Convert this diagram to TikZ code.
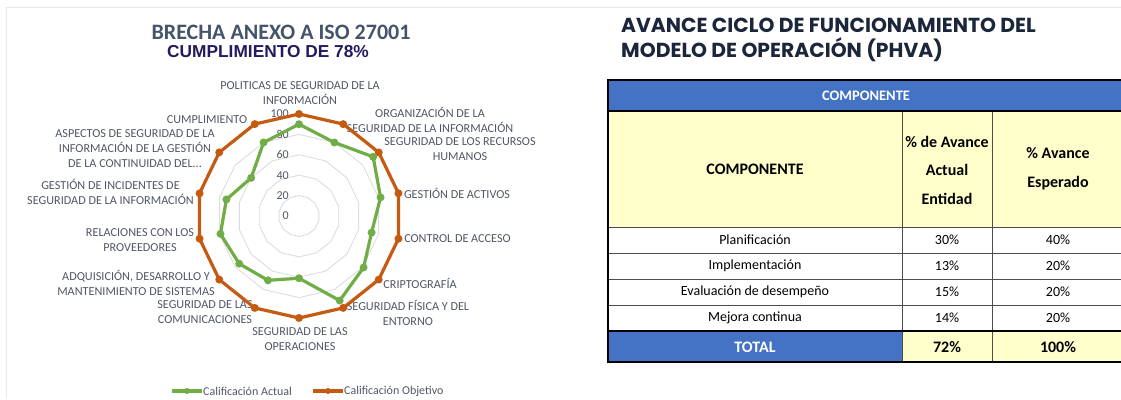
\documentclass[tikz,border=0pt]{standalone}
\usepackage{fontspec}
\setmainfont{Carlito}
\newfontfamily\arialfont{Liberation Sans}
\newfontfamily\titlefont{Poppins}
\usepackage{tikz}
\usetikzlibrary{positioning}
\definecolor{chgreen}{RGB}{112,173,71}
\definecolor{chorange}{RGB}{197,90,17}
\definecolor{chgrid}{RGB}{220,220,224}
\definecolor{chtext}{RGB}{80,86,100}
\definecolor{chtitle}{RGB}{68,84,106}
\definecolor{chnavy}{RGB}{32,28,94}
\definecolor{chframe}{RGB}{232,232,232}
\definecolor{tblue}{RGB}{68,114,196}
\definecolor{tyellow}{RGB}{255,255,204}
\definecolor{ttitle}{RGB}{27,38,59}
\tikzstyle{axislabel} = [font=\fontsize{12.2}{15}\selectfont, text=chtext, align=center, inner sep=0pt]
\tikzstyle{ticklabel} = [font=\fontsize{12}{14}\selectfont, text=chtext, anchor=east, inner sep=0pt]
\tikzstyle{gridline} = [draw=chgrid, line width=0.9pt]
\tikzstyle{actualline} = [draw=chgreen, line width=3.2pt, line join=round]
\tikzstyle{targetline} = [draw=chorange, line width=3.2pt, line join=round]
\tikzstyle{datacell} = [font=\fontsize{14}{16}\selectfont, inner sep=0pt]
\tikzstyle{headcell} = [font=\fontsize{16}{28.5}\selectfont\bfseries, align=center, inner sep=0pt]
\tikzstyle{rule} = [draw=black!70, line width=0.9pt]
\tikzstyle{thickrule} = [draw=black, line width=1.3pt]

\begin{document}
\begin{tikzpicture}[x=1pt, y=-1pt]
\useasboundingbox (0,0) rectangle (1121,399);
\draw[chframe, line width=1pt] (6,399) -- (6,7) -- (1121,7);

% Chart titles
\node[font=\fontsize{22}{24}\selectfont\bfseries, text=chtitle, inner sep=0pt] (chtitle1) at (281,32) {BRECHA ANEXO A ISO 27001};
\node[font=\arialfont\fontsize{17.3}{19}\selectfont\bfseries, text=chnavy, inner sep=0pt] (chtitle2) at (268,52) {CUMPLIMIENTO DE 78\%};

% Axis labels
\node[axislabel] (ax1) at (300,93.5) {POLITICAS DE SEGURIDAD DE LA\\INFORMACIÓN};
\node[axislabel] (ax2) at (430,119.5) {ORGANIZACIÓN DE LA\\SEGURIDAD DE LA INFORMACIÓN};
\node[axislabel] (ax3) at (460,149.5) {SEGURIDAD DE LOS RECURSOS\\HUMANOS};
\node[axislabel] (ax4) at (457,193) {GESTIÓN DE ACTIVOS};
\node[axislabel] (ax5) at (457.5,239) {CONTROL DE ACCESO};
\node[axislabel] (ax6) at (420,283) {CRIPTOGRAFÍA};
\node[axislabel] (ax7) at (408,312.5) {SEGURIDAD FÍSICA Y DEL\\ENTORNO};
\node[axislabel] (ax8) at (300,339.5) {SEGURIDAD DE LAS\\OPERACIONES};
\node[axislabel] (ax9) at (205,312.5) {SEGURIDAD DE LAS\\COMUNICACIONES};
\node[axislabel] (ax10) at (136,283) {ADQUISICIÓN, DESARROLLO Y\\MANTENIMIENTO DE SISTEMAS};
\node[axislabel] (ax11) at (140,240) {RELACIONES CON LOS\\PROVEEDORES};
\node[axislabel] (ax12) at (110.5,192) {GESTIÓN DE INCIDENTES DE\\SEGURIDAD DE LA INFORMACIÓN};
\node[axislabel] (ax13) at (135,148.5) {ASPECTOS DE SEGURIDAD DE LA\\INFORMACIÓN DE LA GESTIÓN\\DE LA CONTINUIDAD DEL...};
\node[axislabel] (ax14) at (207,120) {CUMPLIMIENTO};

% Radar grid and scale
\begin{scope}[shift={(299,216)}]
\foreach \g in {1,...,5}
  \draw[gridline] (-90:{20.4*\g}) \foreach \k in {1,...,13}{ -- ({-90+\k*360/14}:{20.4*\g}) } -- cycle;
\end{scope}
\foreach \t in {0,20,...,100}
  \node[ticklabel] (tick\t) at (289,{216-1.02*\t}) {\t};

% Series
\begin{scope}[shift={(299,216)}]
\foreach \v [count=\k from 0] in {100,100,100,100,100,100,100,100,100,100,100,100,100,100}
  \coordinate (tgt\k) at ({-90+\k*360/14}:{1.02*\v});
\foreach \v [count=\k from 0] in {90,80,93,82,73,81,92,61,70,75,79,73,60,80}
  \coordinate (act\k) at ({-90+\k*360/14}:{1.02*\v});
\draw[targetline] (tgt0) \foreach \k in {1,...,13}{ -- (tgt\k) } -- cycle;
\foreach \k in {0,...,13} \fill[chorange] (tgt\k) circle (4pt);
\draw[actualline] (act0) \foreach \k in {1,...,13}{ -- (act\k) } -- cycle;
\foreach \k in {0,...,13} \fill[chgreen] (act\k) circle (4pt);
\end{scope}

% Legend
\draw[chgreen, line width=3.2pt] (172,391) -- (202,391);
\fill[chgreen] (187,391) circle (3pt);
\node[font=\fontsize{12}{14}\selectfont, text=chtext, anchor=west, inner sep=0pt] (legact) at (203,391) {Calificación Actual};
\draw[chorange, line width=3.2pt] (313,391) -- (343,391);
\fill[chorange] (328,391) circle (3pt);
\node[font=\fontsize{12}{14}\selectfont, text=chtext, anchor=west, inner sep=0pt] (legobj) at (344,391) {Calificación Objetivo};

% Table title
\node[font=\titlefont\fontsize{20.3}{22}\selectfont\bfseries, text=ttitle, anchor=base west, inner sep=0pt] (tbtitle1) at (621,32) {AVANCE CICLO DE FUNCIONAMIENTO DEL};
\node[font=\titlefont\fontsize{20.3}{22}\selectfont\bfseries, text=ttitle, anchor=base west, inner sep=0pt] (tbtitle2) at (621,57) {MODELO DE OPERACIÓN (PHVA)};

% Table cells
\fill[tblue] (608,80) rectangle (1124,111);
\fill[tyellow] (608,111) rectangle (1124,227);
\fill[white] (608,227) rectangle (1124,331);
\fill[tblue] (608,331) rectangle (902,362);
\fill[tyellow] (902,331) rectangle (1124,362);
\foreach \y in {253,279,305} \draw[rule] (608,\y) -- (1124,\y);
\draw[rule] (608,227) -- (1124,227);
\foreach \x in {902,992} \draw[rule] (\x,111) -- (\x,362);
\draw[thickrule] (608,111) -- (1124,111);
\draw[thickrule] (608,331) -- (1124,331);
\draw[thickrule] (1124,80) -- (608,80) -- (608,362) -- (1124,362);

% Table texts
\node[font=\fontsize{14.5}{16}\selectfont\bfseries, text=white, inner sep=0pt] (hdr) at (866,95.5) {COMPONENTE};
\node[headcell] (hcomp) at (755,169) {COMPONENTE};
\node[headcell] (hact) at (947,170) {\% de Avance\\Actual\\Entidad};
\node[headcell] (hesp) at (1058,168.5) {\% Avance\\Esperado};
\foreach \name/\a/\b [count=\r from 0] in {Planificación/30/40, Implementación/13/20, Evaluación de desempeño/15/20, Mejora continua/14/20}{
  \node[datacell] (row\r) at (755,{240+26*\r}) {\name};
  \node[datacell] (rowa\r) at (947,{240+26*\r}) {\a\%};
  \node[datacell] (rowb\r) at (1058,{240+26*\r}) {\b\%};
}
\node[headcell, text=white] (total) at (755,347) {TOTAL};
\node[headcell] (totala) at (947,347) {72\%};
\node[headcell] (totalb) at (1058,347) {100\%};
\end{tikzpicture}
\end{document}
